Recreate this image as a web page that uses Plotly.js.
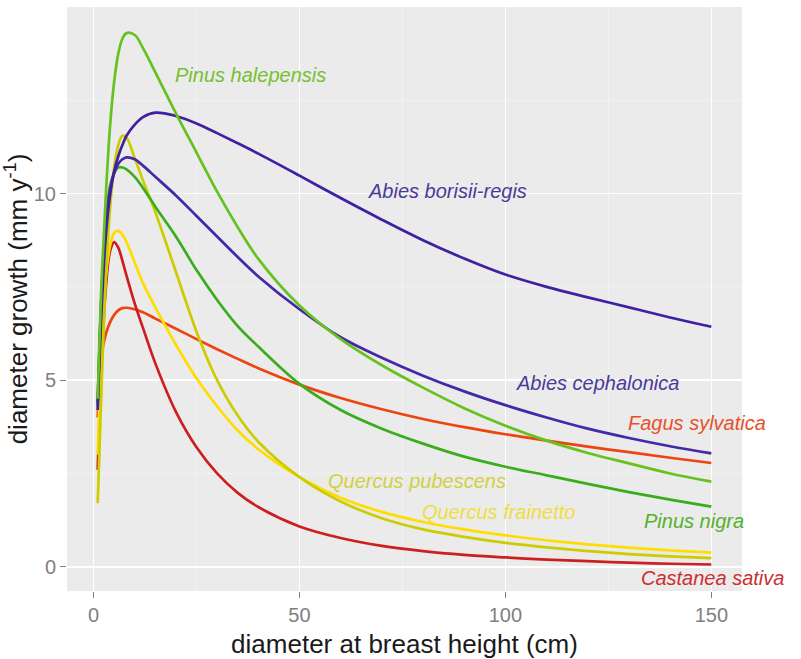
<!DOCTYPE html>
<html>
<head>
<meta charset="utf-8">
<script src="https://cdn.plot.ly/plotly-3.0.1.min.js"></script>
<style>html,body{margin:0;padding:0;background:#fff;}#chart{width:801px;height:659px;}</style>
</head>
<body>
<div id="chart"></div>
<script>
// diameter at breast height (cm)
const dbh = [1, 2, 3, 4, 5, 6, 7, 8, 10, 12, 15, 20, 25, 30, 35, 40, 50, 60, 70, 80, 90, 100, 110, 120, 130, 140, 150];

// diameter growth (mm/y) per species
const pinusHalepensis  = [4.5, 7.8, 10.0, 11.8, 13.0, 13.75, 14.15, 14.3, 14.25, 13.9, 13.25, 12.15, 11.1, 10.05, 9.1, 8.25, 7.0, 6.1, 5.4, 4.8, 4.25, 3.78, 3.38, 3.05, 2.77, 2.5, 2.28];
const pinusNigra       = [4.3, 7.5, 9.3, 10.2, 10.55, 10.7, 10.7, 10.65, 10.45, 10.15, 9.65, 8.85, 7.95, 7.15, 6.45, 5.9, 4.9, 4.2, 3.7, 3.3, 2.95, 2.68, 2.45, 2.22, 2.0, 1.8, 1.61];
const abiesBorisii     = [4.2, 7.0, 8.9, 9.95, 10.6, 11.0, 11.3, 11.55, 11.85, 12.05, 12.17, 12.08, 11.88, 11.62, 11.35, 11.07, 10.48, 9.88, 9.3, 8.75, 8.26, 7.83, 7.5, 7.22, 6.95, 6.68, 6.43];
const abiesCephalonica = [4.4, 7.4, 9.1, 10.1, 10.55, 10.8, 10.92, 10.97, 10.92, 10.75, 10.45, 9.95, 9.4, 8.85, 8.3, 7.78, 6.9, 6.15, 5.6, 5.12, 4.7, 4.33, 4.0, 3.7, 3.45, 3.23, 3.04];
const fagusSylvatica   = [4.0, 5.7, 6.25, 6.55, 6.75, 6.87, 6.93, 6.94, 6.9, 6.82, 6.65, 6.38, 6.1, 5.83, 5.57, 5.32, 4.88, 4.52, 4.22, 3.96, 3.74, 3.55, 3.38, 3.22, 3.07, 2.92, 2.78];
const castaneaSativa   = [2.6, 5.6, 7.5, 8.45, 8.7, 8.55, 8.2, 7.8, 7.05, 6.4, 5.45, 4.15, 3.2, 2.5, 1.98, 1.6, 1.08, 0.77, 0.56, 0.42, 0.32, 0.25, 0.19, 0.15, 0.11, 0.08, 0.06];
const quercusFrainetto = [3.0, 6.0, 7.8, 8.6, 8.95, 9.0, 8.9, 8.7, 8.15, 7.6, 6.95, 5.95, 5.05, 4.3, 3.65, 3.15, 2.4, 1.85, 1.47, 1.2, 1.0, 0.84, 0.71, 0.6, 0.51, 0.44, 0.38];
const quercusPubescens = [1.7, 5.0, 7.8, 9.6, 10.7, 11.3, 11.55, 11.5, 10.95, 10.35, 9.5, 7.9, 6.3, 5.0, 4.05, 3.35, 2.4, 1.75, 1.3, 1.0, 0.8, 0.64, 0.52, 0.42, 0.34, 0.28, 0.23];

const species = ["Fagus sylvatica", "Castanea sativa", "Quercus frainetto", "Quercus pubescens",
                 "Pinus nigra", "Abies cephalonica", "Abies borisii-regis", "Pinus halepensis"];
const seriesValues = [fagusSylvatica, castaneaSativa, quercusFrainetto, quercusPubescens,
                      pinusNigra, abiesCephalonica, abiesBorisii, pinusHalepensis];
const lineColors = ["#ee4411", "#cc2020", "#ffdd00", "#cccc00", "#3aad1c", "#4428a8", "#4020a0", "#66c21e"];

const xTicks = [0, 50, 100, 150];
const yTicks = [0, 5, 10];

const traces = species.map((name, i) => ({
  type: "scatter",
  mode: "lines",
  name: name,
  x: dbh,
  y: seriesValues[i],
  line: {color: lineColors[i], width: 2.7, shape: "spline", smoothing: 1},
  hoverinfo: "skip"
}));

const labelFont = (c) => ({family: "Liberation Sans, Arial, sans-serif", size: 20, color: c});
function lab(text, x, y, color) {
  return {text: "<i>" + text + "</i>", x: x, y: y, xref: "x", yref: "y",
          showarrow: false, font: labelFont(color), xanchor: "center", yanchor: "middle"};
}

const layout = {
  width: 801, height: 659,
  margin: {l: 67, r: 59, t: 7, b: 68},
  paper_bgcolor: "#ffffff",
  plot_bgcolor: "#ebebeb",
  showlegend: false,
  font: {family: "Liberation Sans, Arial, sans-serif"},
  xaxis: {
    range: [-6.45, 157.45],
    tickmode: "array", tickvals: xTicks, ticktext: xTicks.map(String),
    ticks: "outside", ticklen: 6, tickcolor: "#7f7f7f", tickwidth: 1,
    tickfont: {size: 20, color: "#7f7f7f"},
    showgrid: true, gridcolor: "#ffffff", gridwidth: 1.6,
    minor: {dtick: 25, tick0: 0, showgrid: true, gridcolor: "#f4f4f4", gridwidth: 0.8, ticks: ""},
    zeroline: false, showline: false,
    title: {text: "diameter at breast height (cm)", font: {size: 26, color: "#1a1a1a"}, standoff: 9}
  },
  yaxis: {
    range: [-0.65, 15.0],
    tickmode: "array", tickvals: yTicks, ticktext: yTicks.map(String),
    ticks: "outside", ticklen: 6, tickcolor: "#7f7f7f", tickwidth: 1,
    tickfont: {size: 20, color: "#7f7f7f"},
    showgrid: true, gridcolor: "#ffffff", gridwidth: 1.6,
    minor: {dtick: 2.5, tick0: 0, showgrid: true, gridcolor: "#f4f4f4", gridwidth: 0.8, ticks: ""},
    zeroline: false, showline: false,
    title: {text: "diameter growth (mm y<sup>-1</sup>)", font: {size: 26, color: "#1a1a1a"}, standoff: 7}
  },
  annotations: [
    lab("Pinus halepensis", 38.1, 13.18, "#77c030"),
    lab("Abies borisii-regis", 85.9, 10.08, "#4b3a9a"),
    lab("Abies cephalonica", 122.3, 4.92, "#4b3a9a"),
    lab("Fagus sylvatica", 146.6, 3.85, "#e8502a"),
    lab("Quercus pubescens", 78.6, 2.3, "#d2d040"),
    lab("Quercus frainetto", 98.3, 1.47, "#eedd44"),
    lab("Pinus nigra", 145.9, 1.23, "#55b030"),
    lab("Castanea sativa", 150.2, -0.29, "#cc3030")
  ]
};

Plotly.newPlot("chart", traces, layout, {displayModeBar: false, staticPlot: true});
</script>
</body>
</html>
